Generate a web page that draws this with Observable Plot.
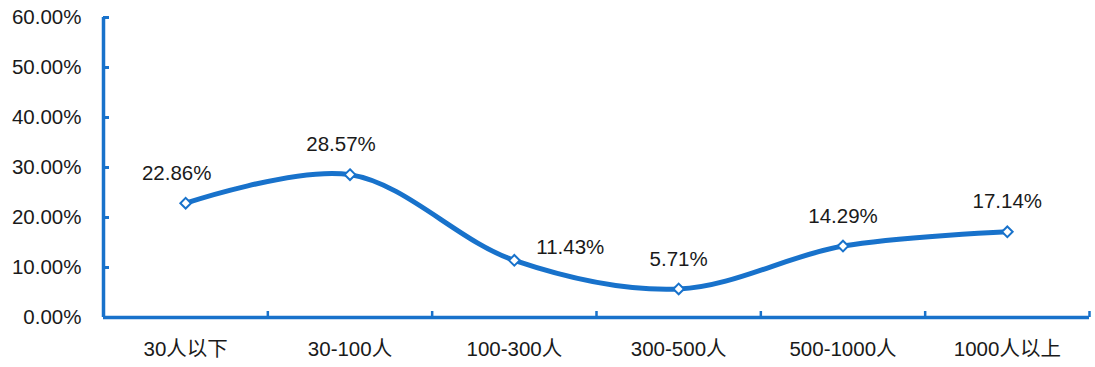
<!DOCTYPE html>
<html>
<head>
<meta charset="utf-8">
<script src="https://cdn.jsdelivr.net/npm/d3@7"></script>
<script src="https://cdn.jsdelivr.net/npm/@observablehq/plot@0.6"></script>
<style>
  html, body { margin: 0; padding: 0; background: #fff; }
  #chart svg { display: block; }
</style>
</head>
<body>
<div id="chart"></div>
<script>
const categories = ["30人以下", "30-100人", "100-300人", "300-500人", "500-1000人", "1000人以上"];
const values = [0.2286, 0.2857, 0.1143, 0.0571, 0.1429, 0.1714];
const yTicks = [0, 0.1, 0.2, 0.3, 0.4, 0.5, 0.6];

const data = categories.map((c, i) => ({cat: c, i, x: i + 0.5, y: values[i]}));
const blue = "#1872cb";
const ink = "#1a1a1a";
const fs = 20.5;
const font = "'Liberation Sans', 'Noto Sans CJK SC', sans-serif";
const fmt = d3.format(".2%");

const plot = Plot.plot({
  width: 1095,
  height: 367,
  marginLeft: 103,
  marginRight: 6,
  marginTop: 17,
  marginBottom: 50,
  style: {fontFamily: font, fontSize: fs + "px", color: ink, background: "#fff"},
  x: {type: "linear", domain: [0, categories.length], label: null},
  y: {domain: [0, 0.6], label: null},
  marks: [
    Plot.axisY({ticks: yTicks, tickFormat: fmt, tickSize: 0, tickPadding: 22, fontSize: fs, fill: ink, label: null}),
    Plot.axisY({ticks: yTicks, tickSize: -6, tickFormat: () => "", stroke: blue, strokeWidth: 3, label: null}),
    Plot.axisX({ticks: d3.range(1, categories.length + 1), tickSize: -6, tickFormat: () => "", stroke: blue, strokeWidth: 2.5, label: null}),
    Plot.axisX({ticks: data.map(d => d.x), tickSize: 0, tickPadding: 24, tickFormat: v => categories[Math.round(v - 0.5)], fontSize: fs, fill: ink, label: null}),
    Plot.ruleY([0], {stroke: blue, strokeWidth: 3.5}),
    Plot.ruleX([0], {stroke: blue, strokeWidth: 3.5}),
    Plot.line(data, {x: "x", y: "y", curve: "catmull-rom", stroke: blue, strokeWidth: 5}),
    Plot.dot(data, {x: "x", y: "y", symbol: "diamond2", r: 4.8, fill: "white", stroke: blue, strokeWidth: 2}),
    Plot.text(data.filter(d => d.i < 2), {x: "x", y: "y", text: d => fmt(d.y), dx: -9, dy: -30, fontSize: fs, fill: ink}),
    Plot.text(data.filter(d => d.i === 2), {x: "x", y: "y", text: d => fmt(d.y), dx: 56, dy: -13, fontSize: fs, fill: ink}),
    Plot.text(data.filter(d => d.i > 2), {x: "x", y: "y", text: d => fmt(d.y), dx: 0, dy: -30, fontSize: fs, fill: ink})
  ]
});
document.getElementById("chart").appendChild(plot);
</script>
</body>
</html>
